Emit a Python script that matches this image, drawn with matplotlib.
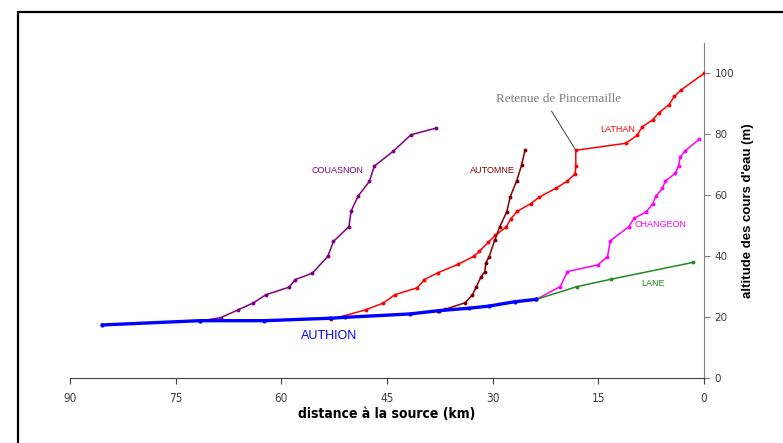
import matplotlib.pyplot as plt
from matplotlib.patches import Rectangle

# distance to source (km) / altitude (m)
AUTHION_X = [85.4, 71.6, 62.4, 53.1, 51.0, 41.8, 37.6, 33.3, 30.5, 26.9, 23.8]
AUTHION_Y = [17.5, 18.9, 18.9, 19.7, 20.0, 21.1, 22.2, 23.0, 23.7, 25.1, 25.9]

COUASNON_X = [71.5, 68.6, 66.1, 64.0, 62.2, 58.9, 58.0, 55.6, 53.4, 52.6, 50.4,
              50.1, 49.1, 47.5, 46.8, 44.1, 41.6, 38.0]
COUASNON_Y = [18.8, 19.9, 22.5, 24.7, 27.4, 29.9, 32.4, 34.5, 40.0, 44.9, 49.8,
              54.8, 59.8, 64.6, 69.6, 74.5, 79.9, 82.1]

LATHAN_X = [52.9, 48.0, 45.5, 43.9, 40.7, 39.7, 37.7, 34.9, 32.7, 31.9, 30.6, 29.6,
            28.1, 27.4, 26.5, 24.6, 23.4, 21.0, 19.4, 18.3, 18.2, 18.2, 11.1, 9.5,
            8.8, 7.3, 6.4, 5.0, 4.2, 3.2, 0.0]
LATHAN_Y = [19.3, 22.5, 24.7, 27.4, 29.7, 32.4, 34.7, 37.4, 40.0, 41.6, 44.7, 46.9,
            49.6, 52.4, 54.8, 57.3, 59.4, 62.4, 64.7, 67.1, 69.5, 74.8, 77.1, 79.7,
            82.4, 84.8, 87.1, 89.7, 92.5, 94.7, 100.0]

AUTOMNE_X = [37.7, 36.8, 33.9, 32.9, 32.3, 31.7, 31.1, 31.0, 30.5, 29.7, 29.0,
             28.0, 27.5, 26.6, 25.9, 25.4]
AUTOMNE_Y = [22.2, 22.6, 24.8, 27.3, 30.1, 33.1, 35.0, 37.7, 39.9, 45.4, 49.7,
             54.6, 59.6, 64.7, 69.9, 74.9]

CHANGEON_X = [23.8, 20.4, 19.4, 15.1, 13.7, 13.3, 10.7, 9.9, 8.2, 7.3, 6.8, 5.9,
              5.5, 4.1, 3.6, 3.4, 2.7, 0.7]
CHANGEON_Y = [25.9, 30.1, 35.0, 37.2, 39.9, 45.1, 49.7, 52.5, 54.6, 57.2, 59.8,
              62.3, 64.7, 67.2, 69.7, 72.5, 74.6, 78.4]

LANE_X = [23.8, 18.0, 13.2, 1.6]
LANE_Y = [25.9, 30.1, 32.5, 38.0]

XTICKS = [90, 75, 60, 45, 30, 15, 0]
YTICKS = [0, 20, 40, 60, 80, 100]

SANS = ['Liberation Sans', 'DejaVu Sans']

fig = plt.figure(figsize=(7.83, 4.43), dpi=100)
fig.patches.append(Rectangle((18 / 783, -0.1), 1.2, 1.1 - 12 / 443,
                             transform=fig.transFigure, fill=False,
                             edgecolor='black', linewidth=1.6))
ax = fig.add_axes([70 / 783, 1 - 378.3 / 443, 634 / 783, 335.3 / 443])

series = [
    (COUASNON_X, COUASNON_Y, '#800080'),
    (LATHAN_X, LATHAN_Y, '#ff0000'),
    (AUTOMNE_X, AUTOMNE_Y, '#800000'),
    (CHANGEON_X, CHANGEON_Y, '#ff00ff'),
    (LANE_X, LANE_Y, '#228b22'),
]
for x, y, c in series:
    ax.plot(x, y, color=c, lw=1.1, marker='o', ms=1.8, zorder=3)
ax.plot(AUTHION_X, AUTHION_Y, color='#0000ff', lw=2.4, marker='o', ms=2.0, zorder=4)

lab = dict(fontsize=6.5, family=SANS, ha='center', va='center')
ax.text(52.1, 68.3, 'COUASNON', color='#800080', **lab)
ax.text(30.1, 68.3, 'AUTOMNE', color='#800000', **lab)
ax.text(12.3, 81.7, 'LATHAN', color='#ff0000', **lab)
ax.text(6.2, 50.3, 'CHANGEON', color='#ff00ff', **lab)
ax.text(7.2, 31.0, 'LANE', color='#228b22', **lab)
ax.text(53.2, 13.9, 'AUTHION', color='#0000ff', fontsize=9, family=SANS,
        ha='center', va='center')
ax.annotate('Retenue de Pincemaille', xy=(18.2, 74.8), xytext=(20.6, 91.7),
            fontsize=9.5, family=['Liberation Serif', 'DejaVu Serif'],
            color='#808080', ha='center', va='center',
            arrowprops=dict(arrowstyle='-', color='#404040', lw=0.7,
                            relpos=(0.41, 0), shrinkA=3, shrinkB=0))

ax.set_xlim(90, 0)
ax.set_ylim(0, 110)
ax.set_xticks(XTICKS)
ax.set_yticks(YTICKS)
for s in ['left', 'top']:
    ax.spines[s].set_visible(False)
ax.spines['bottom'].set_color('#404040')
ax.spines['right'].set_color('#808080')
ax.yaxis.tick_right()
ax.yaxis.set_label_position('right')
ax.tick_params(axis='x', direction='out', length=4, colors='#404040', labelsize=8.5,
               pad=6)
ax.tick_params(axis='y', direction='out', length=4, colors='#808080',
               labelcolor='#404040', labelsize=7.5)
for t in ax.get_xticklabels():
    t.set_family('DejaVu Sans')
    t.set_stretch('condensed')
ax.set_xlabel('distance à la source (km)', fontsize=10, fontweight='bold',
              family='DejaVu Sans', fontstretch='condensed', labelpad=1)
ax.set_ylabel("altitude des cours d'eau (m)", fontsize=9.5, fontweight='bold',
              family=SANS, labelpad=6)

fig.savefig('out.png', dpi=100)
